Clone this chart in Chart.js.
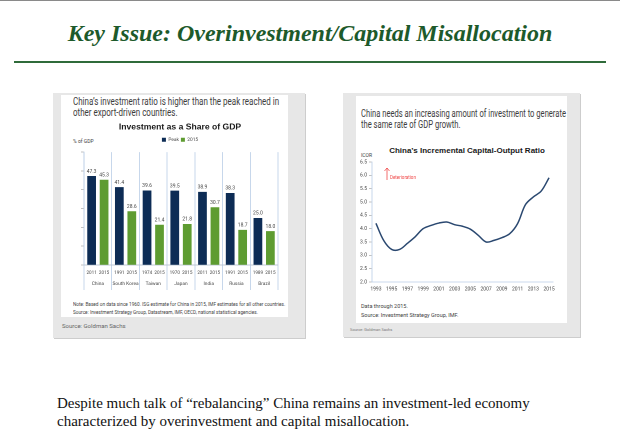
<!DOCTYPE html>
<html>
<head>
<meta charset="utf-8">
<script src="https://cdn.jsdelivr.net/npm/chart.js@4.4.1/dist/chart.umd.min.js"></script>
<style>
  html, body { margin: 0; padding: 0; background: #fff; }
  body { width: 620px; height: 446px; position: relative; overflow: hidden; }
  .abs { position: absolute; }
  .narrow { font-family: Roboto, "Liberation Sans", sans-serif; transform-origin: 0 0; white-space: nowrap; }
  #topline { left: 0; top: 0; width: 620px; height: 1px; background: #8a8a8a; }
  #title { left: 0; top: 20px; width: 620px; text-align: center; font-family: "Liberation Serif", serif;
           font-weight: bold; font-style: italic; font-size: 24px; color: #1d5a2b; }
  #rule { left: 14px; top: 61px; width: 592px; height: 2px; background: #2f6b3a; }
  .panel { background: #e7e7e7; box-shadow: 1px 1px 0 #cdcdcd; }
  .sheet { background: #fff; }
  .sub { font-size: 10px; color: #3d3d3d; line-height: 11px; }
  .tiny { font-size: 5px; color: #444; line-height: 8px; }
  #bottomtext { left: 57px; top: 394px; font-family: "Liberation Serif", serif; font-size: 15px;
                line-height: 18px; color: #111; }
</style>
</head>
<body>
<div id="topline" class="abs"></div>
<div id="title" class="abs">Key Issue: Overinvestment/Capital Misallocation</div>
<div id="rule" class="abs"></div>

<!-- левая панель -->
<div class="abs panel" style="left:53px;top:93px;width:252px;height:245px;"></div>
<div class="abs sheet" style="left:61px;top:95px;width:227px;height:222px;"></div>
<div class="abs narrow sub" style="left:73px;top:96px;transform:scaleX(0.8);">China’s investment ratio is higher than the peak reached in<br>other export-driven countries.</div>
<div class="abs narrow tiny" style="left:73px;top:137px;">% of GDP</div>
<canvas id="shareChart" class="abs" style="left:62px;top:118px;width:224px;height:176px;"></canvas>
<div class="abs narrow tiny" style="left:73px;top:300px;font-size:5.2px;transform:scaleX(0.91);">Note: Based on data since 1960. ISG estimate for China in 2015, IMF estimates for all other countries.<br>Source: Investment Strategy Group, Datastream, IMF, OECD, national statistical agencies.</div>
<div class="abs narrow" style="left:62px;top:322px;font-size:6px;color:#666;">Source: Goldman Sachs</div>

<!-- правая панель -->
<div class="abs panel" style="left:343px;top:93px;width:237px;height:244px;"></div>
<div class="abs sheet" style="left:356px;top:96px;width:211px;height:227px;"></div>
<div class="abs narrow sub" style="left:361px;top:108px;transform:scaleX(0.76);">China needs an increasing amount of investment to generate<br>the same rate of GDP growth.</div>
<div class="abs" style="left:357px;top:146px;width:220px;text-align:center;font-family:'Liberation Sans',Arial,sans-serif;font-weight:bold;font-size:8px;color:#1a1a1a;">China’s Incremental Capital-Output Ratio</div>
<div class="abs narrow tiny" style="left:361px;top:151px;">ICOR</div>
<canvas id="icorChart" class="abs" style="left:357px;top:140px;width:206px;height:158px;"></canvas>
<svg class="abs" style="left:383px;top:167px;" width="8" height="14">
  <line x1="4" y1="1" x2="4" y2="13" stroke="#f04a4a" stroke-width="0.8"/>
  <polyline points="1.5,4 4,1 6.5,4" fill="none" stroke="#f04a4a" stroke-width="0.8"/>
</svg>
<div class="abs narrow" style="left:390px;top:175px;font-size:4.5px;color:#f04a4a;">Deterioration</div>
<div class="abs narrow" style="left:361px;top:302px;font-size:5.5px;color:#444;line-height:9px;">Data through 2015.<br>Source: Investment Strategy Group, IMF.</div>
<div class="abs narrow" style="left:350px;top:327px;font-size:4px;color:#777;">Source: Goldman Sachs</div>

<div id="bottomtext" class="abs">Despite much talk of “rebalancing” China remains an investment-led economy<br>characterized by overinvestment and capital misallocation.</div>

<script>
// данные левого графика
const countries = ["China", "South Korea", "Taiwan", "Japan", "India", "Russia", "Brazil"];
const peakYears = ["2011", "1991", "1974", "1970", "2011", "1991", "1989"];
const recentYears = ["2015", "2015", "2015", "2015", "2015", "2015", "2015"];
const peakShare = [47.3, 41.4, 39.6, 39.5, 38.9, 38.3, 25.0];
const share2015 = [45.3, 28.6, 21.4, 21.8, 30.7, 18.7, 18.0];

// данные правого графика
const icorYears = ["1993", "1994", "1995", "1996", "1997", "1998", "1999", "2000", "2001", "2002", "2003", "2004",
                   "2005", "2006", "2007", "2008", "2009", "2010", "2011", "2012", "2013", "2014", "2015"];
const icorValues = [4.2, 3.55, 3.22, 3.22, 3.45, 3.7, 4.0, 4.12, 4.21, 4.25, 4.15, 4.09,
                    3.98, 3.75, 3.5, 3.56, 3.66, 3.81, 4.19, 4.9, 5.19, 5.41, 5.91];

const NAVY = "#0d2c55";
const GREEN = "#5e9c31";
const SEP = "#b9cde6";
const FONT = "Roboto, 'Liberation Sans', sans-serif";

// подписи значений над столбцами и годы под ними
const barLabels = {
  id: "barLabels",
  afterDatasetsDraw(chart) {
    const ctx = chart.ctx;
    const yearSets = [peakYears, recentYears];
    ctx.save();
    ctx.fillStyle = "#444";
    ctx.textAlign = "center";
    chart.data.datasets.forEach((ds, di) => {
      chart.getDatasetMeta(di).data.forEach((bar, i) => {
        ctx.font = "5px " + FONT;
        ctx.textBaseline = "bottom";
        ctx.fillText(ds.data[i].toFixed(1), bar.x, bar.y - 2);
        ctx.font = "4.6px " + FONT;
        ctx.textBaseline = "middle";
        ctx.fillText(yearSets[di][i], bar.x, chart.chartArea.bottom + 8);
      });
    });
    ctx.restore();
  }
};

new Chart(document.getElementById("shareChart"), {
  type: "bar",
  data: {
    labels: countries,
    datasets: [
      { label: "Peak", data: peakShare, backgroundColor: NAVY },
      { label: "2015", data: share2015, backgroundColor: GREEN }
    ]
  },
  options: {
    responsive: false,
    animation: false,
    devicePixelRatio: 2,
    layout: { padding: { left: 20, right: 8, top: 2, bottom: 0 } },
    datasets: { bar: { categoryPercentage: 0.9, barPercentage: 0.7 } },
    plugins: {
      title: {
        display: true,
        text: "Investment as a Share of GDP",
        color: "#1a1a1a",
        font: { family: "'Liberation Sans', Arial, sans-serif", size: 8.6, weight: "bold" },
        padding: { top: 2, bottom: 3 }
      },
      legend: {
        display: true,
        labels: {
          boxWidth: 4, boxHeight: 4, padding: 2,
          color: "#444",
          font: { family: FONT, size: 4.8 }
        }
      },
      tooltip: { enabled: false }
    },
    scales: {
      x: {
        afterFit: (s) => { s.height = 29; },
        grid: {
          offset: true,
          color: (c) => (c.index === countries.length ? "rgba(0,0,0,0)" : SEP),
          lineWidth: 0.8,
          tickLength: 25
        },
        border: { color: "#a9b6c6", width: 0.8 },
        ticks: { color: "#444", font: { family: FONT, size: 4.8 }, padding: -9, autoSkip: false, maxRotation: 0 }
      },
      y: {
        min: 0, max: 60,
        afterFit: (s) => { s.width = 2; },
        grid: { drawOnChartArea: false, drawTicks: true, tickLength: 3, color: "#999", lineWidth: 0.6 },
        border: { color: SEP, width: 0.8 },
        ticks: { stepSize: 10, color: "#444", font: { family: FONT, size: 5 }, padding: 3 }
      }
    }
  },
  plugins: [barLabels]
});

new Chart(document.getElementById("icorChart"), {
  type: "line",
  data: {
    labels: icorYears,
    datasets: [
      { label: "ICOR", data: icorValues, borderColor: "#2a4870", borderWidth: 1.5,
        pointRadius: 0, tension: 0.35, fill: false }
    ]
  },
  options: {
    responsive: false,
    animation: false,
    devicePixelRatio: 2,
    layout: { padding: { left: 0, right: 10, top: 22, bottom: 0 } },
    plugins: {
      legend: { display: false },
      tooltip: { enabled: false }
    },
    scales: {
      x: {
        offset: true,
        afterFit: (s) => { s.height = 16; },
        grid: { display: false, drawTicks: false },
        border: { color: SEP, width: 0.8 },
        ticks: {
          autoSkip: false, maxRotation: 0, color: "#444", padding: 4,
          font: { family: FONT, size: 5 },
          callback: (v, i) => (i % 2 === 0 ? icorYears[i] : "")
        }
      },
      y: {
        min: 2.0, max: 6.5,
        afterFit: (s) => { s.width = 15; },
        grid: { drawOnChartArea: false, drawTicks: true, tickLength: 3, color: "#999", lineWidth: 0.6 },
        border: { color: SEP, width: 0.8 },
        ticks: { stepSize: 0.5, color: "#444", font: { family: FONT, size: 5 }, padding: 2,
                 callback: (v) => v.toFixed(1) }
      }
    }
  }
});
</script>
</body>
</html>
